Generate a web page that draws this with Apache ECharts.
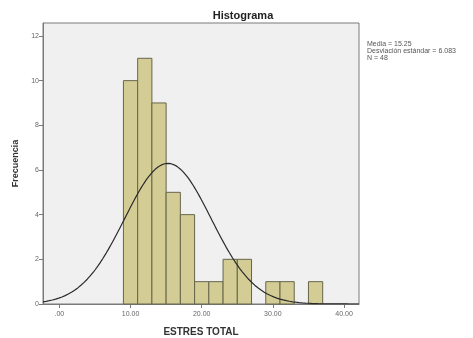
<!DOCTYPE html>
<html><head><meta charset="utf-8">
<script src="https://cdn.jsdelivr.net/npm/echarts@6/dist/echarts.min.js"></script>
<style>html,body{margin:0;padding:0;background:#fff}#c{width:473px;height:338px}</style>
</head><body><div id="c"></div>
<script>
// Histogram bins (ESTRES TOTAL), width 2
const binStarts = [9, 11, 13, 15, 17, 19, 21, 23, 25, 27, 29, 31, 33, 35];
const binCounts = [10, 11, 9, 5, 4, 1, 1, 2, 2, 0, 1, 1, 0, 1];
const binWidth = 2;
// Summary statistics shown in the chart
const mean = 15.25;
const sd = 6.083;
const n = 48;
const xTicks = [0, 10, 20, 30, 40];
const xTickLabels = ['.00', '10.00', '20.00', '30.00', '40.00'];
const yTicks = [0, 2, 4, 6, 8, 10, 12];

const xMin = -2.3, xMax = 42.1;
const bars = binStarts.map((s, i) => [s, s + binWidth, binCounts[i]]);
const curve = [];
for (let k = 0; k <= 200; k++) {
  const x = xMin + (xMax - xMin) * k / 200;
  const z = (x - mean) / sd;
  curve.push([x, n * binWidth * Math.exp(-0.5 * z * z) / (sd * Math.sqrt(2 * Math.PI))]);
}

const chart = echarts.init(document.getElementById('c'), null, {renderer: 'canvas'});
const ff = '"Liberation Sans", Arial, sans-serif';
chart.setOption({
  animation: false,
  backgroundColor: '#ffffff',
  title: [
    {text: 'Histograma', left: 238, top: 5, textAlign: 'center',
     textStyle: {fontFamily: ff, fontSize: 11, fontWeight: 'bold', color: '#222'}},
    {text: 'Media = ' + mean.toFixed(2) + '\nDesviación estándar = ' + sd.toFixed(3) + '\nN = ' + n,
     left: 362, top: 36,
     textStyle: {fontFamily: ff, fontSize: 7, fontWeight: 'normal', color: '#555', lineHeight: 7}}
  ],
  grid: {left: 43, right: 114, top: 23, bottom: 34, show: true, containLabel: false,
         outerBoundsMode: 'none',
         backgroundColor: '#f0f0f0', borderColor: '#7a7a7a', borderWidth: 1},
  xAxis: {
    type: 'value', min: xMin, max: xMax,
    name: 'ESTRES TOTAL', nameLocation: 'middle', nameGap: 23,
    nameTextStyle: {fontFamily: ff, fontSize: 10, fontWeight: 'bold', color: '#333'},
    axisLine: {show: true, onZero: false, lineStyle: {color: '#7a7a7a'}},
    axisTick: {show: true, length: 4, customValues: xTicks, lineStyle: {color: '#7a7a7a'}},
    axisLabel: {customValues: xTicks, fontFamily: ff, fontSize: 7, color: '#666', margin: 7,
                formatter: v => xTickLabels[xTicks.indexOf(Math.round(v))]},
    splitLine: {show: false}
  },
  yAxis: {
    type: 'value', min: 0, max: 12.58,
    name: 'Frecuencia', nameLocation: 'middle', nameGap: 23, nameRotate: 90,
    nameTextStyle: {fontFamily: ff, fontSize: 9, fontWeight: 'bold', color: '#333'},
    axisLine: {show: true, onZero: false, lineStyle: {color: '#7a7a7a'}},
    axisTick: {show: true, length: 4, customValues: yTicks, lineStyle: {color: '#7a7a7a'}},
    axisLabel: {customValues: yTicks, fontFamily: ff, fontSize: 7, color: '#666', margin: 4},
    splitLine: {show: false}
  },
  series: [
    {
      type: 'custom',
      data: bars,
      encode: {x: [0, 1], y: 2},
      renderItem: function (params, api) {
        const p0 = api.coord([api.value(0), 0]);
        const p1 = api.coord([api.value(1), api.value(2)]);
        if (api.value(2) <= 0) return null;
        return {
          type: 'rect',
          shape: {x: p0[0], y: p1[1], width: p1[0] - p0[0], height: p0[1] - p1[1]},
          style: {fill: '#d3cd95', stroke: '#66654a', lineWidth: 1}
        };
      },
      z: 2
    },
    {
      type: 'line', data: curve, showSymbol: false, smooth: false,
      lineStyle: {color: '#2a2a2a', width: 1.2}, z: 3
    }
  ]
});
</script></body></html>
